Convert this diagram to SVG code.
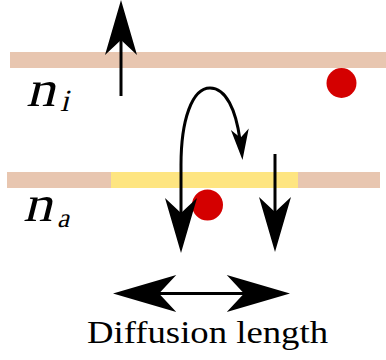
<svg xmlns="http://www.w3.org/2000/svg" width="386" height="360" viewBox="0 0 386 360">
<style>
.band{fill:#e8c6b0}
.hot{fill:#fee581}
.dot{fill:#d40000}
.line{stroke:#000;stroke-width:3;fill:none}
.head{fill:#000}
</style>
<defs>
<path id="head" d="M0,0 L-55,-16 L-40,0 L-55,16 Z"/>
</defs>
<rect width="386" height="360" fill="#fff"/>
<g id="interface-i">
<rect class="band" x="10" y="52" width="376" height="16"/>
</g>
<g id="interface-a">
<rect class="band" x="7" y="172" width="373" height="16"/>
<rect class="hot" x="111" y="172" width="187" height="16"/>
</g>
<g id="particle-top"><circle class="dot" cx="341.5" cy="83" r="15"/></g>
<g id="particle-bottom"><circle class="dot" cx="207.5" cy="205" r="15.5"/></g>
<g id="label-ni" font-family="Liberation Serif, serif" fill="#000">
<text transform="translate(26,106) skewX(-14)" font-size="51" textLength="29" lengthAdjust="spacingAndGlyphs">n</text>
<text transform="translate(60,111) skewX(-14)" font-size="31">i</text>
</g>
<g id="label-na" font-family="Liberation Serif, serif" fill="#000">
<text transform="translate(23,221) skewX(-14)" font-size="51" textLength="29" lengthAdjust="spacingAndGlyphs">n</text>
<text transform="translate(57,227) skewX(-14)" font-size="27">a</text>
</g>
<g id="label-diffusion">
<text x="87" y="343" font-family="Liberation Serif, serif" font-size="32" fill="#000" textLength="241" lengthAdjust="spacingAndGlyphs">Diffusion length</text>
</g>
<g id="connectors">
<line class="line" x1="121" y1="96" x2="121" y2="20"/>
<use href="#head" class="head" transform="translate(121,0) rotate(-90)"/>
<path class="line" d="M181,235 V165 C181,120 192,88 210,88 C226,88 236,110 240,140"/>
<use href="#head" class="head" transform="translate(181,253) rotate(90)"/>
<use href="#head" class="head" transform="translate(242.5,160) rotate(85) scale(0.56)"/>
<line class="line" x1="275" y1="154" x2="275" y2="235"/>
<use href="#head" class="head" transform="translate(275,252) rotate(90)"/>
<line class="line" x1="135" y1="293.5" x2="270" y2="293.5"/>
<use href="#head" class="head" transform="translate(113,293.5) rotate(180) scale(1.15)"/>
<use href="#head" class="head" transform="translate(290,293.5) scale(1.15)"/>
</g>
</svg>
